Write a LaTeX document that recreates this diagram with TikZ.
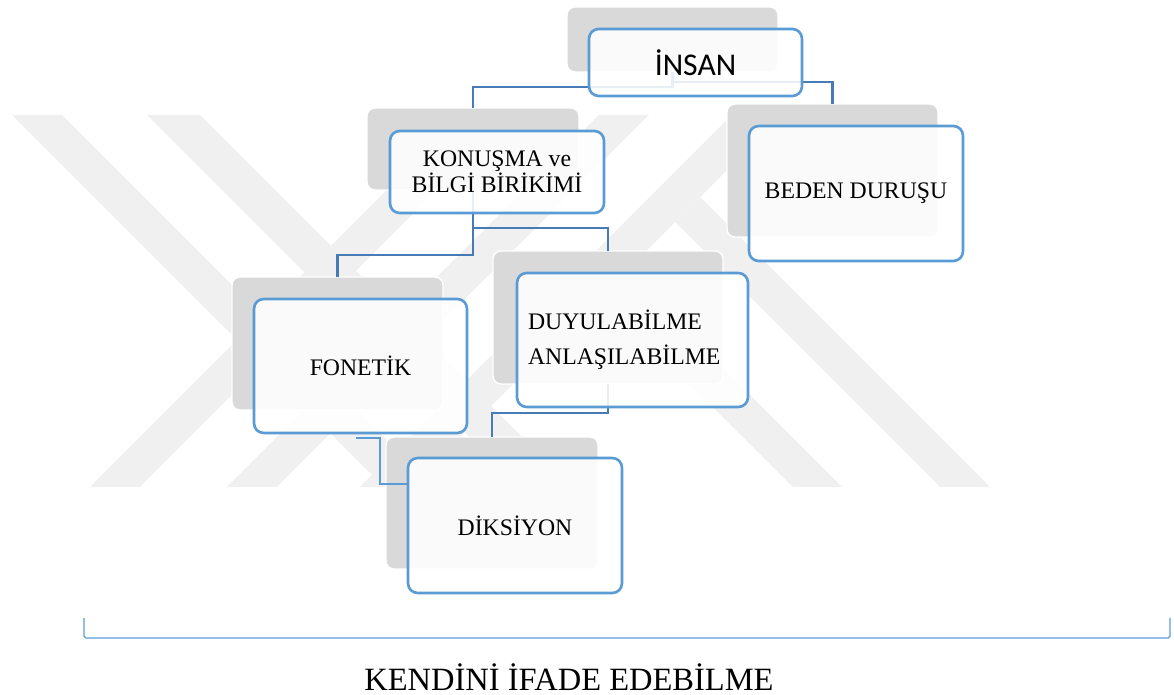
\documentclass[tikz,border=0pt]{standalone}
\usepackage{fontspec}
\setmainfont{Liberation Serif}
\newfontfamily\calibri{Carlito}
\usetikzlibrary{calc}
\definecolor{boxblue}{HTML}{5B9BD5}
\definecolor{linkblue}{HTML}{477BB5}
\definecolor{boxgray}{HTML}{D9D9D9}
\definecolor{markgray}{HTML}{F0F0F0}
\begin{document}
\begin{tikzpicture}[x=0.02cm, y=-0.02cm,
    backbox/.style={fill=boxgray, draw=white, line width=0.8pt, rounded corners=4.5pt, inner sep=0pt, outer sep=0pt},
    frontbox/.style={draw=boxblue, line width=1.5pt, rounded corners=5.5pt, fill=white, fill opacity=0.88, text opacity=1, inner sep=0pt, outer sep=0pt, align=center, font=\fontsize{13.5}{14.7}\selectfont},
    link/.style={draw=linkblue, line width=1.6pt},
    thinlink/.style={draw=boxblue, line width=0.6pt},
    band/.style={fill=markgray}]
  \useasboundingbox (0,0) rectangle (1174,695);

  % watermark
  \begin{scope}
    \clip (0,115) rectangle (1174,487);
    \foreach \a/\w in {12/50,147/53}
      \fill[band] (\a,115) -- ++(\w,0) -- ++(372,372) -- ++(-\w,0) -- cycle;
    \foreach \b/\w in {90/50,227/50,360/50}
      \fill[band] (\b,487) -- ++(\w,0) -- ++(372,-372) -- ++(-\w,0) -- cycle;
    \fill[band] (675,222) -- (700,197) -- (990,487) -- (940,487) -- cycle;
    \fill[band] (601,296) -- (626,271) -- (842,487) -- (793,487) -- cycle;
  \end{scope}

  % shadows
  \node[backbox, minimum width=4.22cm, minimum height=1.30cm] (insanb) at (672.5,39.5) {};
  \node[backbox, minimum width=4.24cm, minimum height=1.64cm] (konb) at (473,149) {};
  \node[backbox, minimum width=4.22cm, minimum height=2.66cm] (bedb) at (832.5,170.5) {};
  \node[backbox, minimum width=4.22cm, minimum height=2.66cm] (fonb) at (337.5,343.5) {};
  \node[backbox, minimum width=4.60cm, minimum height=2.66cm] (duyb) at (608,317.5) {};
  \node[backbox, minimum width=4.24cm, minimum height=2.64cm] (dikb) at (492,503) {};

  % tree lines
  \draw[link] (insanb.south) -- ++(0,15) -| (konb.north);
  \draw[link] (insanb.south) -- ++(0,10) -| (bedb.north);
  \draw[link] (konb.south) -- ++(0,38) -| (duyb.north);
  \draw[link] (konb.south) -- ++(0,65) -| (fonb.north);
  \draw[link] (duyb.south) -- ++(0,29) -| (dikb.north);

  % boxes
  \node[frontbox, minimum width=4.26cm, minimum height=1.34cm] (insan) at (695.5,62.5) {\calibri\fontsize{18}{21}\selectfont İNSAN};
  \node[frontbox, minimum width=4.28cm, minimum height=1.64cm] (kon) at (497,172) {KONUŞMA ve\\BİLGİ BİRİKİMİ};
  \node[frontbox, minimum width=4.28cm, minimum height=2.70cm] (bed) at (856,193.5) {BEDEN DURUŞU};
  \node[frontbox, minimum width=4.26cm, minimum height=2.68cm] (fon) at (360.5,366) {FONETİK};
  \node[frontbox, minimum height=2.68cm, inner xsep=0.22cm, text width=4.18cm, align=left,
        font=\fontsize{13.5}{19.8}\selectfont] (duy) at (632.5,340) {DUYULABİLME\\ANLAŞILABİLME};
  \node[frontbox, minimum width=4.28cm, minimum height=2.70cm] (dik) at (515,525.5) {DİKSİYON};

  \coordinate (fk) at (356,438);
  \draw[thinlink] (fk) -- ++(24,0) |- ($(dik.north west)+(0,26)$);

  % bottom brace
  \coordinate (brl) at (84,618);
  \coordinate (brr) at (1170,618);
  \draw[thinlink, line width=0.7pt, rounded corners=1pt] (brl) -- ++(0,20) -| (brr);
  \node[font=\fontsize{18.5}{22}\selectfont] (goal) at (569,677) {KENDİNİ İFADE EDEBİLME};
\end{tikzpicture}
\end{document}
